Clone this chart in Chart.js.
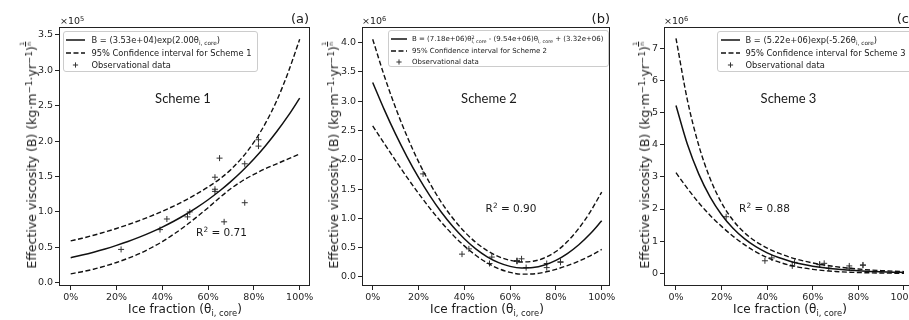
<!DOCTYPE html>
<html>
<head>
<meta charset="utf-8">
<script src="https://cdn.jsdelivr.net/npm/chart.js@4.4.1/dist/chart.umd.min.js"></script>
<style>
html,body{margin:0;padding:0;background:#fff;}
body{width:909px;height:320px;overflow:hidden;position:relative;font-family:'DejaVu Sans',sans-serif;color:#1a1a1a;}
canvas{position:absolute;top:0;}
.t{position:absolute;white-space:nowrap;line-height:1;}
.cc{transform:translate(-50%,-50%);}
.lc{transform:translate(0,-50%);}
.rc{transform:translate(-100%,-50%);}
.yt{transform:translate(-50%,-50%) rotate(-90deg);font-size:12.5px;}
.xt{font-size:12px;}
.sch{font-family:Lato,'Open Sans',sans-serif;font-size:13px;}
.r2{font-size:10.5px;}
.pan{font-size:13px;}
.mul{font-size:9.5px;}
.sp{font-size:0.7em;vertical-align:0.45em;line-height:0;}
.sb{font-size:0.7em;vertical-align:-0.3em;line-height:0;}
.frac{display:inline-block;font-size:0.48em;vertical-align:0.9em;line-height:1;text-align:center;}
.frac span{display:block;padding:0 0.5px;}
.frac .num{border-bottom:0.6px solid #1a1a1a;}
.ss{display:inline-block;font-size:0.7em;line-height:0.9;vertical-align:-0.4em;}
.ss span{display:block;}
.leg{position:absolute;border:1px solid #cccccc;border-radius:3px;background:rgba(255,255,255,0.8);box-sizing:border-box;}
.leg .t{transform:translate(0,-50%);}
.leg svg{position:absolute;}
</style>
</head>
<body>
<canvas id="cA" width="320" height="320" style="left:0px"></canvas>
<canvas id="cB" width="320" height="320" style="left:305px"></canvas>
<canvas id="cC" width="320" height="320" style="left:610px"></canvas>

<!-- panel (a) texts -->
<div class="t lc mul" style="left:60px;top:21px">×10<span class="sp">5</span></div>
<div class="t rc pan" style="left:309px;top:18px">(a)</div>
<div class="t cc sch" style="left:183px;top:98px">Scheme 1</div>
<div class="t cc r2" style="left:221.5px;top:232px">R<span class="sp">2</span> = 0.71</div>
<div class="t cc xt" style="left:185px;top:309px">Ice fraction (θ<span class="sb">i, core</span>)</div>
<div class="t yt" style="left:29px;top:155px">Effective viscosity (B) (kg·m<span class="sp">−1</span>·yr<span class="sp">−1</span>)<span class="frac"><span class="num">1</span><span>n</span></span></div>

<!-- panel (b) texts -->
<div class="t lc mul" style="left:362px;top:21px">×10<span class="sp">6</span></div>
<div class="t rc pan" style="left:610px;top:18px">(b)</div>
<div class="t cc sch" style="left:489px;top:98px">Scheme 2</div>
<div class="t cc r2" style="left:511px;top:208px">R<span class="sp">2</span> = 0.90</div>
<div class="t cc xt" style="left:487px;top:309px">Ice fraction (θ<span class="sb">i, core</span>)</div>
<div class="t yt" style="left:331px;top:155px">Effective viscosity (B) (kg·m<span class="sp">−1</span>·yr<span class="sp">−1</span>)<span class="frac"><span class="num">1</span><span>n</span></span></div>

<!-- panel (c) texts -->
<div class="t lc mul" style="left:664px;top:21px">×10<span class="sp">6</span></div>
<div class="t rc pan" style="left:914px;top:18px">(c)</div>
<div class="t cc sch" style="left:788.5px;top:98px">Scheme 3</div>
<div class="t cc r2" style="left:764.5px;top:208px">R<span class="sp">2</span> = 0.88</div>
<div class="t cc xt" style="left:790px;top:309px">Ice fraction (θ<span class="sb">i, core</span>)</div>
<div class="t yt" style="left:642px;top:155px">Effective viscosity (B) (kg·m<span class="sp">−1</span>·yr<span class="sp">−1</span>)<span class="frac"><span class="num">1</span><span>n</span></span></div>

<script>
// ---------------- data ----------------
const xTickValues = [0, 0.2, 0.4, 0.6, 0.8, 1.0];
const xTickLabels = ['0%', '20%', '40%', '60%', '80%', '100%'];
const yTicksA = [0, 0.5, 1.0, 1.5, 2.0, 2.5, 3.0, 3.5];
const yTicksB = [0, 0.5, 1.0, 1.5, 2.0, 2.5, 3.0, 3.5, 4.0];
const yTicksC = [0, 1, 2, 3, 4, 5, 6, 7];

// ice fraction grid for the fitted curves
const thetaGrid = [0, 0.05, 0.1, 0.15, 0.2, 0.25, 0.3, 0.35, 0.4, 0.45, 0.5,
                   0.55, 0.6, 0.65, 0.7, 0.75, 0.8, 0.85, 0.9, 0.95, 1.0];

// Scheme 1 (x1e5)
const fitA   = [0.353, 0.390, 0.431, 0.4765, 0.527, 0.582, 0.643, 0.711, 0.786, 0.868, 0.960,
                1.0605, 1.172, 1.295, 1.4315, 1.582, 1.748, 1.932, 2.1355, 2.360, 2.608];
const upperA = [0.59, 0.628, 0.670, 0.716, 0.766, 0.820, 0.878, 0.941, 1.009, 1.083, 1.164,
                1.253, 1.352, 1.464, 1.600, 1.772, 1.985, 2.25, 2.575, 2.975, 3.44];
const lowerA = [0.125, 0.155, 0.19, 0.235, 0.285, 0.344, 0.41, 0.49, 0.58, 0.685, 0.80,
                0.927, 1.06, 1.20, 1.33, 1.44, 1.53, 1.61, 1.68, 1.75, 1.82];

// Scheme 2 (x1e6)
const fitB   = [3.32, 2.861, 2.438, 2.051, 1.699, 1.384, 1.104, 0.861, 0.653, 0.481, 0.345,
                0.245, 0.181, 0.153, 0.160, 0.204, 0.283, 0.399, 0.550, 0.737, 0.960];
const upperB = [4.06, 3.441, 2.888, 2.401, 1.969, 1.597, 1.274, 1.003, 0.775, 0.591, 0.450,
                0.348, 0.284, 0.257, 0.268, 0.326, 0.435, 0.604, 0.830, 1.112, 1.450];
const lowerB = [2.58, 2.281, 1.988, 1.701, 1.429, 1.171, 0.934, 0.719, 0.531, 0.371, 0.240,
                0.142, 0.078, 0.049, 0.052, 0.082, 0.131, 0.194, 0.270, 0.362, 0.470];

// Scheme 3 (x1e6)
const fitC   = [5.22, 4.013, 3.085, 2.371, 1.823, 1.402, 1.078, 0.828, 0.637, 0.490, 0.376,
                0.289, 0.2225, 0.171, 0.1315, 0.101, 0.0777, 0.0597, 0.0459, 0.0353, 0.0271];
const upperC = [7.31, 5.39, 3.975, 2.94, 2.19, 1.65, 1.265, 0.989, 0.785, 0.627, 0.501,
                0.402, 0.322, 0.258, 0.207, 0.165, 0.132, 0.105, 0.084, 0.067, 0.053];
const lowerC = [3.13, 2.64, 2.195, 1.80, 1.46, 1.155, 0.891, 0.667, 0.489, 0.353, 0.251,
                0.176, 0.123, 0.084, 0.057, 0.037, 0.024, 0.015, 0.008, 0.004, 0.001];

// observational data
const obsTheta = [0.22, 0.39, 0.42, 0.51, 0.52, 0.63, 0.63, 0.63, 0.65, 0.67, 0.76, 0.76, 0.82, 0.82];
const obsA     = [0.47, 0.75, 0.90, 0.93, 1.00, 1.49, 1.32, 1.29, 1.76, 0.86, 1.68, 1.13, 2.02, 1.93];
const obsBC    = [1.76, 0.39, 0.48, 0.23, 0.34, 0.27, 0.28, 0.27, 0.31, 0.16, 0.23, 0.16, 0.26, 0.25];

// legend labels
const legendA = ['B = (3.53e+04)exp(2.00θ<span class="sb">i, core</span>)',
                 '95% Confidence interval for Scheme 1', 'Observational data'];
const legendB = ['B = (7.18e+06)θ<span class="ss"><span>2</span><span>i, core</span></span> - (9.54e+06)θ<span class="sb">i, core</span> + (3.32e+06)',
                 '95% Confidence interval for Scheme 2', 'Observational data'];
const legendC = ['B = (5.22e+06)exp(-5.26θ<span class="sb">i, core</span>)',
                 '95% Confidence interval for Scheme 3', 'Observational data'];

// ---------------- drawing ----------------
const INK = '#111111';
const TICKINK = '#262626';
Chart.defaults.font.family = "'DejaVu Sans', sans-serif";

function pts(xs, ys) { return xs.map((x, i) => ({ x: x, y: ys[i] })); }

const framePlugin = {
  id: 'frame',
  afterDatasetsDraw(chart) {
    const a = chart.chartArea, ctx = chart.ctx;
    ctx.save();
    ctx.strokeStyle = '#222222';
    ctx.lineWidth = 1;
    const l = Math.round(a.left), t = Math.round(a.top);
    const r = Math.round(a.right), b = Math.round(a.bottom);
    ctx.strokeRect(l + 0.5, t + 0.5, r - l - 1, b - t - 1);
    ctx.restore();
  }
};

function makePanel(id, p) {
  const line = (ys, dashed) => ({
    data: pts(thetaGrid, ys), showLine: true, borderColor: INK,
    borderWidth: dashed ? 1.4 : 1.5, borderDash: dashed ? [5, 2.5] : [],
    pointRadius: 0, cubicInterpolationMode: 'monotone', fill: false
  });
  new Chart(document.getElementById(id), {
    type: 'scatter',
    data: {
      datasets: [
        line(p.fit, false),
        line(p.upper, true),
        line(p.lower, true),
        { data: pts(obsTheta, p.obs), showLine: false, pointStyle: 'cross',
          pointRadius: 3, borderColor: '#333333', backgroundColor: '#333333', borderWidth: 1 }
      ]
    },
    options: {
      responsive: false, animation: false, devicePixelRatio: 1, events: [],
      layout: { padding: { left: 0, top: 27, right: p.padRight, bottom: 0 } },
      plugins: { legend: { display: false }, tooltip: { enabled: false } },
      scales: {
        x: {
          type: 'linear', min: p.xMin, max: p.xMax,
          afterFit(s) { s.height = 34; },
          afterBuildTicks(s) { s.ticks = xTickValues.map(v => ({ value: v })); },
          ticks: { callback: (v, i) => xTickLabels[i], font: { size: 9.5 }, color: TICKINK,
                   padding: 1.5, maxRotation: 0, autoSkip: false },
          grid: { drawOnChartArea: false, tickLength: 4, color: '#222222', lineWidth: 1 },
          border: { display: false }
        },
        y: {
          type: 'linear', min: p.yMin, max: p.yMax,
          afterFit(s) { s.width = p.yW; },
          afterBuildTicks(s) { s.ticks = p.yTicks.map(v => ({ value: v })); },
          ticks: { callback: v => p.yFmt(v), font: { size: 9.5 }, color: TICKINK,
                   padding: 2, autoSkip: false },
          grid: { drawOnChartArea: false, tickLength: 4, color: '#222222', lineWidth: 1 },
          border: { display: false }
        }
      }
    },
    plugins: [framePlugin]
  });
}

makePanel('cA', { fit: fitA, upper: upperA, lower: lowerA, obs: obsA,
  xMin: -0.0511, xMax: 1.045, yMin: -0.047, yMax: 3.613, yTicks: yTicksA,
  yFmt: v => v.toFixed(1), yW: 59, padRight: 10 });
makePanel('cB', { fit: fitB, upper: upperB, lower: lowerB, obs: obsBC,
  xMin: -0.0467, xMax: 1.0362, yMin: -0.154, yMax: 4.268, yTicks: yTicksB,
  yFmt: v => v.toFixed(1), yW: 57, padRight: 15 });
makePanel('cC', { fit: fitC, upper: upperC, lower: lowerC, obs: obsBC,
  xMin: -0.0526, xMax: 1.05, yMin: -0.395, yMax: 7.663, yTicks: yTicksC,
  yFmt: v => String(Math.round(v)), yW: 54, padRight: 14.6 });

// legends (HTML boxes inside the axes)
function addLegend(o) {
  const box = document.createElement('div');
  box.className = 'leg';
  box.style.cssText = `left:${o.left}px;top:${o.top}px;width:${o.w}px;height:${o.h}px;font-size:${o.fs}px;`;
  const kinds = ['solid', 'dashed', 'marker'];
  o.labels.forEach((lab, i) => {
    const y = o.rows[i];
    const svgNS = 'http://www.w3.org/2000/svg';
    const svg = document.createElementNS(svgNS, 'svg');
    svg.setAttribute('width', o.sw); svg.setAttribute('height', 8);
    svg.style.left = o.sx + 'px'; svg.style.top = (y - 4) + 'px';
    const path = document.createElementNS(svgNS, 'path');
    if (kinds[i] === 'marker') {
      const c = o.sw / 2;
      path.setAttribute('d', `M${c - 2.6},4 H${c + 2.6} M${c},1.4 V6.6`);
      path.setAttribute('stroke', '#333'); path.setAttribute('stroke-width', '1');
    } else {
      path.setAttribute('d', `M0,4 H${o.sw}`);
      path.setAttribute('stroke', INK); path.setAttribute('stroke-width', '1.5');
      if (kinds[i] === 'dashed') path.setAttribute('stroke-dasharray', '5 2.5');
    }
    svg.appendChild(path);
    box.appendChild(svg);
    const t = document.createElement('div');
    t.className = 't';
    t.style.left = o.tx + 'px'; t.style.top = y + 'px';
    t.innerHTML = lab;
    box.appendChild(t);
  });
  document.body.appendChild(box);
}
addLegend({ left: 63, top: 31, w: 195, h: 41, fs: 8.3, rows: [8.3, 21, 33.3], sx: 2, sw: 19, tx: 27.5, labels: legendA });
addLegend({ left: 387.5, top: 30, w: 221.5, h: 37, fs: 7, rows: [7.5, 20, 31], sx: 2.5, sw: 16, tx: 23.5, labels: legendB });
addLegend({ left: 717, top: 31, w: 205, h: 41, fs: 8.3, rows: [8.3, 21, 33.3], sx: 3, sw: 19, tx: 27.5, labels: legendC });
</script>
</body>
</html>
